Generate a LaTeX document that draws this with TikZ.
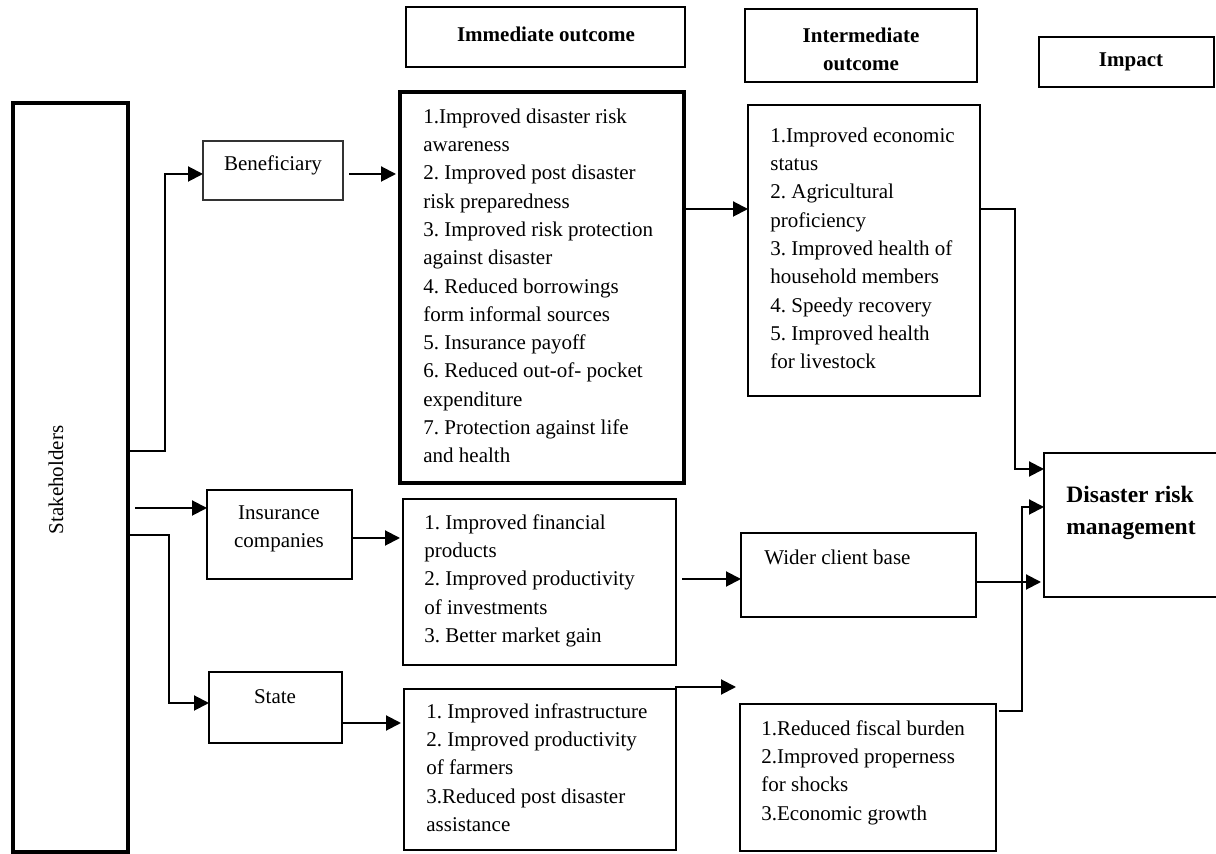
\documentclass[tikz,border=0pt]{standalone}
\usepackage{fontspec}
\setmainfont{Liberation Serif}
\usetikzlibrary{arrows.meta,fit,calc}
\frenchspacing
\begin{document}
\frenchspacing
\begin{tikzpicture}[x=0.5pt,y=-0.5pt,
  box/.style={draw, line width=1pt, inner sep=0pt, outer sep=0pt},
  thinbox/.style={draw=black!80, line width=0.6pt, inner sep=0pt, outer sep=0pt},
  thickbox/.style={draw, line width=2pt, inner sep=0pt, outer sep=0pt},
  body/.style={inner sep=0pt, anchor=north west, align=left, font=\fontsize{10.5}{14.15}\selectfont},
  lbl/.style={inner sep=0pt, align=center, font=\fontsize{10.5}{14}\selectfont},
  head/.style={inner sep=0pt, align=center, font=\fontsize{10.5}{14}\selectfont\bfseries},
  bighead/.style={inner sep=0pt, anchor=north west, align=left, font=\fontsize{11.75}{16.35}\selectfont\bfseries},
  arr/.style={line width=1pt, -{Triangle[length=7.5pt,width=7.5pt]}}]
\useasboundingbox (0,0) rectangle (1216,854);

% stakeholders
\node[thickbox, fit={(13,103)(128,852)}] (stk) {};
\node[lbl, rotate=90] (stkt) at (56,480) {Stakeholders};

% stakeholder groups
\node[thinbox, fit={(203,141)(343,200)}] (ben) {};
\node[lbl] (bent) at (273,165) {Beneficiary};
\node[box, fit={(207,490)(352,579)}] (ins) {};
\node[lbl] (inst) at (279,529) {Insurance\\companies};
\node[box, fit={(209,672)(342,743)}] (sta) {};
\node[lbl] (stat) at (275,697) {State};

% headers
\node[box, fit={(406,7)(685,67)}] (himm) {};
\node[head] (himmt) at (546,34) {Immediate outcome};
\node[box, fit={(745,9)(977,82)}] (hint) {};
\node[head] (hintt) at (861,49) {Intermediate\\outcome};
\node[box, fit={(1039,37)(1214,87)}] (himp) {};
\node[head] (himpt) at (1131,62) {Impact};

% immediate outcomes
\node[thickbox, fit={(400,92)(684,483)}] (imm1) {};
\node[body] (imm1t) at (423,103) {\strut 1.Improved disaster risk\\awareness\\2. Improved post disaster\\risk preparedness\\3. Improved risk protection\\against disaster\\4. Reduced borrowings\\form informal sources\\5. Insurance payoff\\6. Reduced out-of- pocket\\expenditure\\7. Protection against life\\and health};
\node[box, fit={(403,499)(676,665)}] (imm2) {};
\node[body] (imm2t) at (424,509) {\strut 1. Improved financial\\products\\2. Improved productivity\\of investments\\3. Better market gain};
\node[box, fit={(404,689)(676,850)}] (imm3) {};
\node[body] (imm3t) at (426,698) {\strut 1. Improved infrastructure\\2. Improved productivity\\of farmers\\3.Reduced post disaster\\assistance};

% intermediate outcomes
\node[box, fit={(748,105)(980,396)}] (int1) {};
\node[body] (int1t) at (770,122) {\strut 1.Improved economic\\status\\2. Agricultural\\proficiency\\3. Improved health of\\household members\\4. Speedy recovery\\5. Improved health\\for livestock};
\node[box, fit={(741,533)(976,617)}] (int2) {};
\node[body] (int2t) at (764,544) {\strut Wider client base};
\node[box, fit={(740,704)(996,851)}] (int3) {};
\node[body] (int3t) at (761,715) {\strut 1.Reduced fiscal burden\\2.Improved properness\\for shocks\\3.Economic growth};

% impact
\node[box, fit={(1044,453)(1218,597)}] (drm) {};
\node[bighead] (drmt) at (1066,479) {\strut Disaster risk\\management};

% connectors
\draw[arr] (stk.east |- 0,451) -- (165,451) |- (ben.west |- 0,174);
\draw[arr] ($(stk.east |- 0,508)+(7,0)$) -- (ins.west |- 0,508);
\draw[arr] (stk.east |- 0,535) -- (169,535) |- (sta.west |- 0,703);

\draw[arr] ($(ben.east |- 0,174)+(6,0)$) -- ($(imm1.west |- 0,174)+(-4,0)$);
\draw[arr] (ins.east |- 0,538) -- ($(imm2.west |- 0,538)+(-3,0)$);
\draw[arr] (sta.east |- 0,723) -- ($(imm3.west |- 0,723)+(-3,0)$);

\draw[arr] ($(imm1.east |- 0,209)+(2,0)$) -- (int1.west |- 0,209);
\draw[arr] ($(imm2.east |- 0,579)+(6,0)$) -- (int2.west |- 0,579);
\draw[arr] (imm3.north east) -- (imm3.east |- 0,687) -- ($(int3.west |- 0,687)+(-4,0)$);

\draw[arr] (int1.east |- 0,209) -- (1015,209) |- (drm.west |- 0,469);
\draw[arr] (int2.east |- 0,582) -- ($(drm.west |- 0,582)+(-3,0)$);
\draw[arr] ($(int3.east |- 0,711)+(3,0)$) -- (1022,711) |- (drm.west |- 0,507);
\end{tikzpicture}
\end{document}
